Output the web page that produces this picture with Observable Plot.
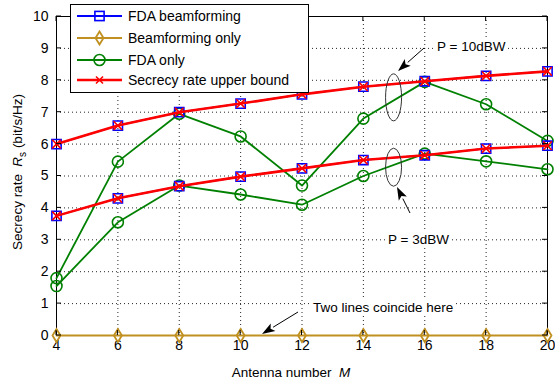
<!DOCTYPE html>
<html><head><meta charset="utf-8">
<script src="https://cdn.jsdelivr.net/npm/d3@7"></script>
<script src="https://cdn.jsdelivr.net/npm/@observablehq/plot@0.6"></script>
<style>body{margin:0;background:#fff}</style>
</head><body><div id="chart"></div>
<script>
const M = [4, 6, 8, 10, 12, 14, 16, 18, 20];
const yTicks = [0, 1, 2, 3, 4, 5, 6, 7, 8, 9, 10];
// P = 10 dBW
const fdaBeam10  = [6.0, 6.58, 7.0, 7.27, 7.56, 7.8, 7.97, 8.14, 8.28];
const upper10    = [6.0, 6.58, 7.0, 7.27, 7.56, 7.8, 7.97, 8.14, 8.28];
const fdaOnly10  = [1.8, 5.45, 6.95, 6.24, 4.7, 6.8, 7.95, 7.25, 6.1];
// P = 3 dBW
const fdaBeam3   = [3.75, 4.3, 4.68, 4.98, 5.24, 5.5, 5.65, 5.86, 5.95];
const upper3     = [3.75, 4.3, 4.68, 4.98, 5.24, 5.5, 5.65, 5.86, 5.95];
const fdaOnly3   = [1.55, 3.55, 4.7, 4.42, 4.1, 5.0, 5.7, 5.46, 5.21];
const beamOnly   = [0, 0, 0, 0, 0, 0, 0, 0, 0];

const legendLabels = ["FDA beamforming", "Beamforming only", "FDA only", "Secrecy rate upper bound"];
const colors = {fda: "#0000ff", beam: "#c09020", only: "#008000", upper: "#ff0000"};

const rows = (vals, group) => M.map((m, i) => ({M: m, v: vals[i], group}));
const dBeam = [...rows(fdaBeam10, "10"), ...rows(fdaBeam3, "3")];
const dUpper = [...rows(upper10, "10"), ...rows(upper3, "3")];
const dOnly = [...rows(fdaOnly10, "10"), ...rows(fdaOnly3, "3")];
const dBO = rows(beamOnly, "0");

const tallDiamond = {draw(ctx) { const w = 4, h = 6.5; ctx.moveTo(0, -h); ctx.lineTo(w, 0); ctx.lineTo(0, h); ctx.lineTo(-w, 0); ctx.closePath(); }};

const font = "'Liberation Sans', Arial, sans-serif";
const plot = Plot.plot({
  width: 555, height: 381,
  marginLeft: 56, marginRight: 8, marginTop: 16, marginBottom: 46,
  x: {domain: [4, 20]},
  y: {domain: [0, 10]},
  style: {fontFamily: font, fontSize: "14px", background: "#fff", color: "#000", overflow: "visible"},
  marks: [
    Plot.gridX(M, {stroke: "#000", strokeOpacity: 0.85, strokeDasharray: "1,3"}),
    Plot.gridY(yTicks, {stroke: "#000", strokeOpacity: 0.85, strokeDasharray: "1,3"}),
    Plot.frame({stroke: "#000"}),
    Plot.axisX(M, {tickSize: 0, tickPadding: 5, label: null, tickFormat: d => d, fontSize: 14}),
    Plot.axisY(yTicks, {tickSize: 0, tickPadding: 8, label: null, fontSize: 14}),
    Plot.line(dBO, {x: "M", y: "v", stroke: colors.beam, strokeWidth: 1.8}),
    Plot.dot(dBO, {x: "M", y: "v", symbol: tallDiamond, stroke: colors.beam, strokeWidth: 1.8, fill: "none"}),
    Plot.line(dOnly, {x: "M", y: "v", z: "group", stroke: colors.only, strokeWidth: 1.8}),
    Plot.dot(dOnly, {x: "M", y: "v", r: 5.5, stroke: colors.only, strokeWidth: 1.6, fill: "none"}),
    Plot.line(dBeam, {x: "M", y: "v", z: "group", stroke: colors.fda, strokeWidth: 1.5}),
    Plot.dot(dBeam, {x: "M", y: "v", symbol: "square", r: 5.2, stroke: colors.fda, strokeWidth: 1.6, fill: "none"}),
    Plot.line(dUpper, {x: "M", y: "v", z: "group", stroke: colors.upper, strokeWidth: 2.6}),
    Plot.dot(dUpper, {x: "M", y: "v", symbol: "times", r: 4, stroke: colors.upper, strokeWidth: 1.6})
  ]
});
document.getElementById("chart").appendChild(plot);

const svg = d3.select(plot);
const xs = v => plot.scale("x").apply(v), ys = v => plot.scale("y").apply(v);
const X0 = xs(4), X1 = xs(20), Y0 = ys(0), Y1 = ys(10);

// inward ticks on all four sides
const tg = svg.append("g").attr("stroke", "#000").attr("stroke-width", 1);
M.forEach(m => {
  tg.append("line").attr("x1", xs(m)).attr("x2", xs(m)).attr("y1", Y0).attr("y2", Y0 - 5);
  tg.append("line").attr("x1", xs(m)).attr("x2", xs(m)).attr("y1", Y1).attr("y2", Y1 + 5);
});
yTicks.forEach(t => {
  tg.append("line").attr("x1", X0).attr("x2", X0 + 5).attr("y1", ys(t)).attr("y2", ys(t));
  tg.append("line").attr("x1", X1).attr("x2", X1 - 5).attr("y1", ys(t)).attr("y2", ys(t));
});

// axis labels
svg.append("text").attr("x", 291).attr("y", 377).attr("text-anchor", "middle")
  .attr("font-family", font).attr("font-size", 13.5)
  .call(t => { t.append("tspan").text("Antenna number  "); t.append("tspan").attr("font-style", "italic").text("M"); });
svg.append("text").attr("transform", "translate(22,172) rotate(-90)").attr("text-anchor", "middle")
  .attr("font-family", font).attr("font-size", 13.5)
  .call(t => {
    t.append("tspan").text("Secrecy rate  ");
    t.append("tspan").attr("font-style", "italic").text("R");
    t.append("tspan").attr("font-size", 10).attr("dy", 4).text("s");
    t.append("tspan").attr("dy", -4).text(" (bit/s/Hz)");
  });

// annotations
const ann = svg.append("g").attr("font-family", font).attr("font-size", 13.5).attr("text-anchor", "start");
function arrow(x1, y1, x2, y2) {
  const a = Math.atan2(y2 - y1, x2 - x1), L = 13, W = 4.5;
  const bx = x2 - L * Math.cos(a), by = y2 - L * Math.sin(a);
  ann.append("line").attr("x1", x1).attr("y1", y1).attr("x2", bx).attr("y2", by).attr("stroke", "#000").attr("stroke-width", 1);
  const px = -Math.sin(a) * W, py = Math.cos(a) * W;
  ann.append("path").attr("d", `M${x2},${y2}L${bx + px},${by + py}L${bx + 3 * Math.cos(a)},${by + 3 * Math.sin(a)}L${bx - px},${by - py}Z`).attr("fill", "#000");
}
function label(x, y, s) {
  const t = ann.append("text").attr("x", x).attr("y", y).text(s);
  const b = t.node().getBBox();
  ann.insert("rect", () => t.node()).attr("x", b.x - 2).attr("y", b.y).attr("width", b.width + 4).attr("height", b.height).attr("fill", "#fff");
}
ann.append("ellipse").attr("cx", xs(15)).attr("cy", ys(7.45)).attr("rx", 8).attr("ry", 23.5).attr("fill", "none").attr("stroke", "#333");
ann.append("ellipse").attr("cx", xs(15)).attr("cy", ys(5.26)).attr("rx", 8).attr("ry", 19).attr("fill", "none").attr("stroke", "#333");
arrow(424, 48, 398, 71);
arrow(410, 213, 397, 187);
arrow(298, 312, 262, 334);
label(437, 51, "P = 10dBW");
label(388, 244, "P = 3dBW");
label(313, 312, "Two lines coincide here");

// legend
const lg = svg.append("g").attr("font-family", font).attr("font-size", 14).attr("text-anchor", "start");
lg.append("rect").attr("x", 70.5).attr("y", 4.5).attr("width", 238).attr("height", 88).attr("fill", "#fff").attr("stroke", "#000");
const legendY = [16, 38, 60, 80];
const lcols = [colors.fda, colors.beam, colors.only, colors.upper];
legendLabels.forEach((lab, i) => {
  const y = legendY[i];
  lg.append("line").attr("x1", 77).attr("x2", 122).attr("y1", y).attr("y2", y).attr("stroke", lcols[i]).attr("stroke-width", i === 3 ? 2.6 : 1.8);
  const cx = 99.5;
  if (i === 0) lg.append("rect").attr("x", cx - 4.6).attr("y", y - 4.6).attr("width", 9.2).attr("height", 9.2).attr("fill", "none").attr("stroke", lcols[i]).attr("stroke-width", 1.6);
  if (i === 1) lg.append("path").attr("d", `M${cx},${y - 6.5}L${cx + 4},${y}L${cx},${y + 6.5}L${cx - 4},${y}Z`).attr("fill", "none").attr("stroke", lcols[i]).attr("stroke-width", 1.8);
  if (i === 2) lg.append("circle").attr("cx", cx).attr("cy", y).attr("r", 5.5).attr("fill", "none").attr("stroke", lcols[i]).attr("stroke-width", 1.6);
  if (i === 3) lg.append("path").attr("d", `M${cx - 3.5},${y - 3.5}L${cx + 3.5},${y + 3.5}M${cx - 3.5},${y + 3.5}L${cx + 3.5},${y - 3.5}`).attr("stroke", lcols[i]).attr("stroke-width", 1.6);
  lg.append("text").attr("x", 128).attr("y", y + 5).text(lab);
});
</script></body></html>
